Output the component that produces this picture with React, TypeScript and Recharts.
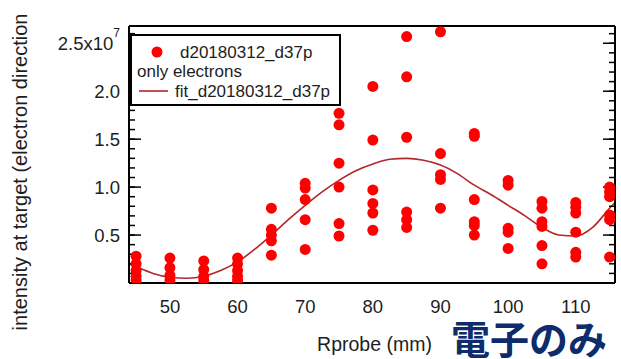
import React from 'react';
import { ComposedChart, Scatter, Line, XAxis, YAxis, Label } from 'recharts';

// Rprobe positions (mm) and the measured intensities at each one (x10^7)
const R_PROBE = [45, 50, 55, 60, 65, 70, 75, 80, 85, 90, 95, 100, 105, 110, 115];
const INTENSITY = [
  [0.28, 0.2, 0.13, 0.07, 0.03],
  [0.26, 0.16, 0.08, 0.03],
  [0.23, 0.14, 0.07, 0.03],
  [0.26, 0.2, 0.13, 0.07, 0.03],
  [0.78, 0.56, 0.5, 0.44, 0.29],
  [1.04, 0.99, 0.87, 0.66, 0.35],
  [1.77, 1.65, 1.25, 1.0, 0.62, 0.49],
  [2.05, 1.49, 0.97, 0.83, 0.73, 0.55],
  [2.57, 2.15, 1.52, 0.74, 0.66, 0.58],
  [2.62, 1.35, 1.13, 1.08, 0.78],
  [1.56, 1.53, 0.87, 0.64, 0.6, 0.5],
  [1.07, 1.02, 0.57, 0.53, 0.36],
  [0.85, 0.78, 0.64, 0.59, 0.39, 0.2],
  [0.84, 0.79, 0.73, 0.53, 0.32, 0.27],
  [1.0, 0.95, 0.9, 0.71, 0.66, 0.27],
];

// fit curve
const FIT_R = [44, 45, 47.5, 50, 52.5, 55, 57.5, 60, 62.5, 65, 67.5, 70, 72.5, 75, 77.5, 80, 82.5, 85,
  87.5, 90, 92.5, 95, 97.5, 100, 102.5, 105, 107.5, 110, 112.5, 115, 115.8];
const FIT_INTENSITY = [0.2, 0.17, 0.1, 0.06, 0.05, 0.07, 0.13, 0.22, 0.35, 0.5, 0.66, 0.81, 0.95, 1.07,
  1.17, 1.24, 1.29, 1.3, 1.28, 1.23, 1.14, 1.02, 0.92, 0.81, 0.7, 0.58, 0.5, 0.49, 0.58, 0.78, 0.84];

const X_LABEL_TICKS = [50, 60, 70, 80, 90, 100, 110];
const X_MID_TICKS = [45, 55, 65, 75, 85, 95, 105, 115];
const Y_LABEL_TICKS = [0.5, 1.0, 1.5, 2.0, 2.5];

const steps = (from: number, to: number, step: number) => {
  const out: number[] = [];
  for (let v = from; v <= to + 1e-9; v += step) out.push(Math.round(v * 100) / 100);
  return out;
};
const X_MINOR_TICKS = steps(44, 115, 1);
const Y_MINOR_TICKS = steps(0.1, 2.6, 0.1);

const X_DOMAIN: [number, number] = [43.95, 115.8];
const Y_DOMAIN: [number, number] = [0, 2.68];

const FONT = '"Liberation Sans", Arial, sans-serif';
const TEXT = '#1e1e1e';

const points = R_PROBE.flatMap((r, i) => INTENSITY[i].map((v) => ({ r, v })));
const fit = FIT_R.map((r, i) => ({ r, v: FIT_INTENSITY[i] }));

const noLabel = () => <g />;
const tickStroke = { stroke: '#000', strokeWidth: 1.5 };
const frameLine = { stroke: '#000', strokeWidth: 2 };
// mirrored frame axes must not be 0 wide, or recharts skips them
const THIN = 0.01;

const X_FRAME = [
  { id: 'xb1', orientation: 'bottom', ticks: X_LABEL_TICKS, size: 12, line: true },
  { id: 'xb2', orientation: 'bottom', ticks: X_MID_TICKS, size: 9, line: false },
  { id: 'xb3', orientation: 'bottom', ticks: X_MINOR_TICKS, size: 5, line: false },
  { id: 'xt1', orientation: 'top', ticks: X_LABEL_TICKS, size: 12, line: true },
  { id: 'xt2', orientation: 'top', ticks: X_MID_TICKS, size: 9, line: false },
  { id: 'xt3', orientation: 'top', ticks: X_MINOR_TICKS, size: 5, line: false },
];
const Y_FRAME = [
  { id: 'yl1', orientation: 'left', ticks: Y_LABEL_TICKS, size: 12, line: true },
  { id: 'yl2', orientation: 'left', ticks: Y_MINOR_TICKS, size: 6, line: false },
  { id: 'yr1', orientation: 'right', ticks: Y_LABEL_TICKS, size: 12, line: true },
  { id: 'yr2', orientation: 'right', ticks: Y_MINOR_TICKS, size: 6, line: false },
];

const YTick = ({ x, y, payload }: any) => {
  const v = payload.value as number;
  if (Math.abs(v - 2.5) < 1e-6) {
    return (
      <text x={x} y={y} textAnchor="end" dominantBaseline="central" fontSize={18.5} fontFamily={FONT} fill={TEXT}>
        2.5x10<tspan dy={-10} fontSize={12}>7</tspan>
      </text>
    );
  }
  return (
    <text x={x} y={y} textAnchor="end" dominantBaseline="central" fontSize={18.5} fontFamily={FONT} fill={TEXT}>
      {v.toFixed(1)}
    </text>
  );
};

const Dot = (p: any) => <circle cx={p.cx} cy={p.cy} r={5.5} fill="#fe0000" />;

export default function App() {
  return (
    <div style={{ position: 'fixed', left: 0, top: 0, width: 621, height: 359, background: '#fff' }}>
      <ComposedChart width={621} height={359} margin={{ top: 26, right: 6, bottom: 0, left: 0 }}>
        <XAxis
          xAxisId="main"
          dataKey="r"
          type="number"
          domain={X_DOMAIN}
          allowDataOverflow
          ticks={X_LABEL_TICKS}
          interval={0}
          height={76}
          tickSize={0}
          tickMargin={17}
          tickLine={false}
          axisLine={false}
          tick={{ fill: TEXT, fontSize: 18.5, fontFamily: FONT }}
        >
          <Label
            content={({ viewBox }: any) => (
              <text x={viewBox.x + viewBox.width / 2 + 2.5} y={viewBox.y + 68} textAnchor="middle"
                fontSize={19.5} fontFamily={FONT} fill={TEXT}>
                Rprobe (mm)
              </text>
            )}
          />
        </XAxis>
        <YAxis
          yAxisId="main"
          dataKey="v"
          type="number"
          domain={Y_DOMAIN}
          allowDataOverflow
          ticks={Y_LABEL_TICKS}
          interval={0}
          width={129}
          tickSize={0}
          tickMargin={9}
          tickLine={false}
          axisLine={false}
          tick={YTick}
        >
          <Label
            content={({ viewBox }: any) => {
              const cx = viewBox.x + 27;
              const cy = viewBox.y + viewBox.height / 2 + 17.5;
              return (
                <text x={cx} y={cy} transform={`rotate(-90, ${cx}, ${cy})`} textAnchor="middle"
                  fontSize={20} fontFamily={FONT} fill={TEXT}>
                  intensity at target (electron direction
                </text>
              );
            }}
          />
        </YAxis>
        {X_FRAME.map((a) => (
          <XAxis
            key={a.id}
            xAxisId={a.id}
            type="number"
            orientation={a.orientation as any}
            mirror
            height={THIN}
            domain={X_DOMAIN}
            allowDataOverflow
            ticks={a.ticks}
            interval={0}
            tickSize={a.size}
            tick={noLabel}
            tickLine={tickStroke}
            axisLine={a.line ? frameLine : false}
          />
        ))}
        {Y_FRAME.map((a) => (
          <YAxis
            key={a.id}
            yAxisId={a.id}
            type="number"
            orientation={a.orientation as any}
            mirror
            width={THIN}
            domain={Y_DOMAIN}
            allowDataOverflow
            ticks={a.ticks}
            interval={0}
            tickSize={a.size}
            tick={noLabel}
            tickLine={tickStroke}
            axisLine={a.line ? frameLine : false}
          />
        ))}
        <Line
          xAxisId="main"
          yAxisId="main"
          data={fit}
          dataKey="v"
          type="monotone"
          stroke="#b3262b"
          strokeWidth={1.6}
          dot={false}
          activeDot={false}
          isAnimationActive={false}
        />
        <Scatter
          xAxisId="main"
          yAxisId="main"
          data={points}
          dataKey="v"
          shape={Dot}
          isAnimationActive={false}
        />
      </ComposedChart>
      <svg width={621} height={359} style={{ position: 'absolute', left: 0, top: 0, pointerEvents: 'none' }}>
        <g fontFamily={FONT} fontSize={17} fill={TEXT}>
          <rect x={131} y={35} width={209} height={70} fill="#fff" stroke="#000" strokeWidth={2} />
          <circle cx={157} cy={52} r={5.5} fill="#fe0000" />
          <text x={180} y={58}>d20180312_d37p</text>
          <text x={137} y={77}>only electrons</text>
          <line x1={139} x2={168} y1={91} y2={91} stroke="#b3262b" strokeWidth={1.6} />
          <text x={175} y={97}>fit_d20180312_d37p</text>
        </g>
        <text x={451} y={354} fontSize={39} fontWeight={700} fill="#0c2c6c"
          fontFamily='"Noto Sans CJK JP", "Noto Sans CJK SC", sans-serif'>
          電子のみ
        </text>
      </svg>
    </div>
  );
}
